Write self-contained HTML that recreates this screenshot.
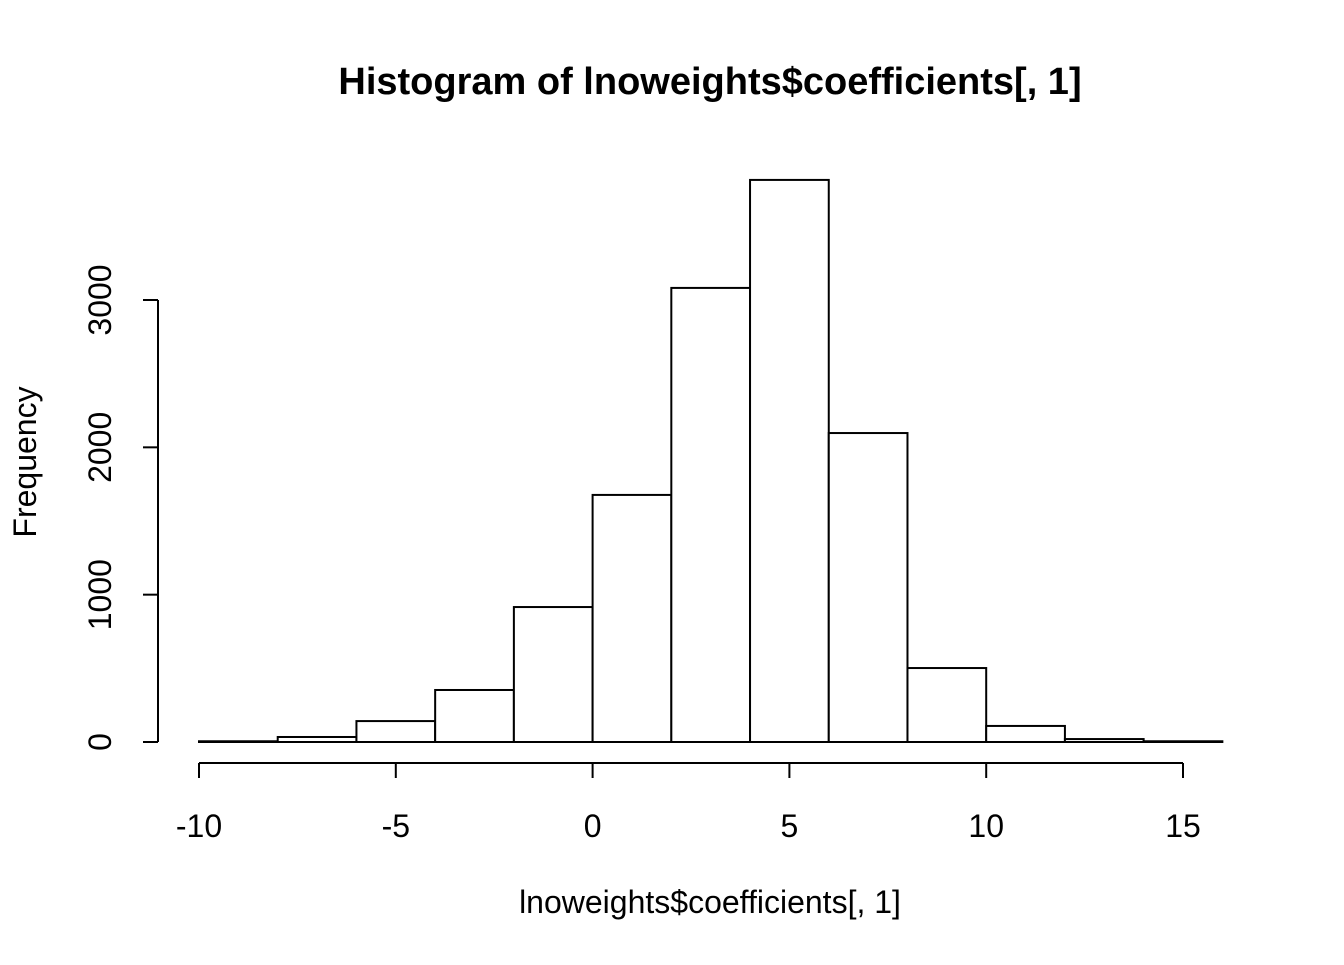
<!DOCTYPE html>
<html><head><meta charset="utf-8"><style>
body{margin:0;background:#fff}
svg text{font-family:"Liberation Sans",Arial,sans-serif;fill:#000}
</style></head><body>
<svg width="1344" height="960" xmlns="http://www.w3.org/2000/svg">
<rect width="1344" height="960" fill="#fff"/>
<text x="710" y="94" text-anchor="middle" font-size="38" font-weight="bold">Histogram of lnoweights$coefficients[, 1]</text>
<text x="710" y="913" text-anchor="middle" font-size="32">lnoweights$coefficients[, 1]</text>
<text transform="translate(36,462) rotate(-90)" text-anchor="middle" font-size="32">Frequency</text>
<g id="bars"></g>
<g id="xaxis"></g>
<g id="yaxis"></g>
</svg>
<script>
const binStarts=[-10,-8,-6,-4,-2,0,2,4,6,8,10,12,14];
const counts=[5,34,142,353,916,1677,3082,3815,2097,502,109,20,5];
const binWidth=2;
const xTicks=[-10,-5,0,5,10,15];
const yTicks=[0,1000,2000,3000];
const NS="http://www.w3.org/2000/svg";
const xs=v=>199+(v+10)*(1183-199)/25;
const ys=v=>742-v*(742-300)/3000;
function mk(t,a,p){const e=document.createElementNS(NS,t);for(const k in a)e.setAttribute(k,a[k]);p.appendChild(e);return e;}
const bars=document.getElementById('bars');
binStarts.forEach((b,i)=>{
 const r=mk('rect',{x:xs(b),y:ys(counts[i]),width:xs(b+binWidth)-xs(b),height:ys(0)-ys(counts[i]),fill:'#fff',stroke:'#000','stroke-width':2},bars);
 
 
});
const xa=document.getElementById('xaxis');
mk('line',{x1:xs(xTicks[0]),x2:xs(xTicks[xTicks.length-1]),y1:763,y2:763,stroke:'#000','stroke-width':2},xa);
xTicks.forEach(t=>{
 mk('line',{x1:xs(t),x2:xs(t),y1:763,y2:778,stroke:'#000','stroke-width':2},xa);
 const tx=mk('text',{x:xs(t),y:837,'text-anchor':'middle','font-size':32},xa);tx.textContent=t;
 
 
});
const ya=document.getElementById('yaxis');
mk('line',{x1:158,x2:158,y1:ys(yTicks[0]),y2:ys(yTicks[yTicks.length-1]),stroke:'#000','stroke-width':2},ya);
yTicks.forEach(t=>{
 mk('line',{x1:143,x2:158,y1:ys(t),y2:ys(t),stroke:'#000','stroke-width':2},ya);
 const tx=mk('text',{x:0,y:0,'text-anchor':'middle','font-size':32,transform:`translate(111,${ys(t)}) rotate(-90)`},ya);tx.textContent=t;
 
 
});
</script>
</body></html>
